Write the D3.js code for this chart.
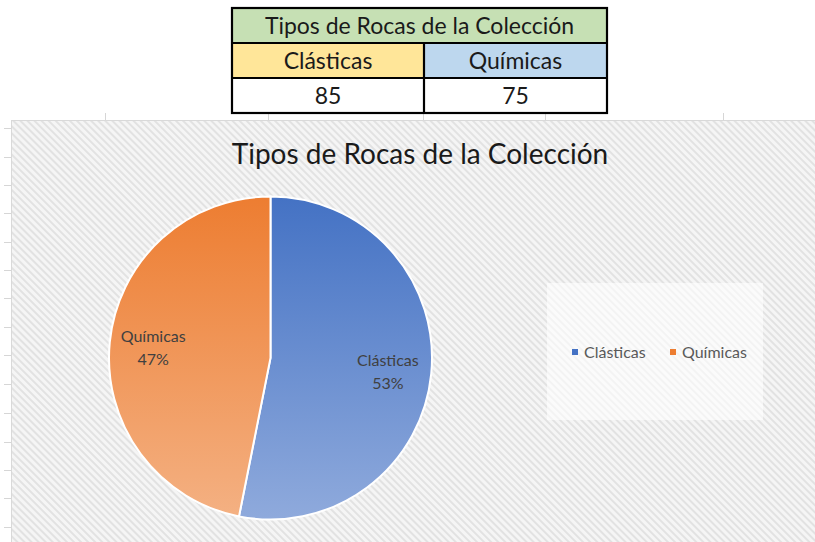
<!DOCTYPE html>
<html>
<head>
<meta charset="utf-8">
<script src="https://cdn.jsdelivr.net/npm/d3@7"></script>
<style>
  body { margin: 0; background: #fff; }
  svg { display: block; }
</style>
</head>
<body>
<div id="main"></div>
<script>
const chartTitle = "Tipos de Rocas de la Colección";
const categories = ["Clásticas", "Químicas"];
const values = [85, 75];
const headerColors = ["#FFE699", "#BDD7EE"];
// gradient stops top -> bottom for each slice
const sliceColors = [["#4472C4", "#8FAADC"], ["#ED7D31", "#F4B183"]];
const legendColors = ["#4472C4", "#ED7D31"];

const ctx = {
    W: 815,
    H: 542,
    font: "Lato, 'Open Sans', sans-serif",
};

function createViz() {
    const svg = d3.select("#main").append("svg")
        .attr("width", ctx.W)
        .attr("height", ctx.H);

    const defs = svg.append("defs");

    // diagonal hatch used by Excel chart area
    const pat = defs.append("pattern")
        .attr("id", "hatch")
        .attr("patternUnits", "userSpaceOnUse")
        .attr("width", 5).attr("height", 5)
        .attr("patternTransform", "rotate(45)");
    pat.append("rect").attr("width", 5).attr("height", 5).attr("fill", "#f5f5f5");
    pat.append("rect").attr("width", 5).attr("height", 2).attr("fill", "#e2e2e2");

    // spreadsheet gridline stubs
    const stubs = svg.append("g").attr("stroke", "#d6d6d6").attr("stroke-width", 1);
    [128, 157, 185, 213, 242, 270, 298, 327, 355, 384, 413, 442, 470, 498, 527].forEach(y => {
        stubs.append("line").attr("x1", 4).attr("x2", 11).attr("y1", y + 0.5).attr("y2", y + 0.5);
    });
    [105, 268, 423, 545, 723].forEach(x => {
        stubs.append("line").attr("x1", x + 0.5).attr("x2", x + 0.5).attr("y1", 113).attr("y2", 120);
    });

    // ---- data table on top ----
    const tx = 232, tw = 375, rowH = 35, ty = 8;
    const colX = d3.scaleOrdinal().domain(categories).range([232, 424]);
    const colW = d3.scaleOrdinal().domain(categories).range([192, 183]);
    const table = svg.append("g");
    table.append("rect")
        .attr("x", tx).attr("y", ty).attr("width", tw).attr("height", rowH)
        .attr("fill", "#C6E0B4");
    table.selectAll("rect.hdr").data(categories).enter().append("rect")
        .attr("class", "hdr")
        .attr("x", d => colX(d)).attr("y", ty + rowH)
        .attr("width", d => colW(d)).attr("height", rowH)
        .attr("fill", (d, i) => headerColors[i]);
    table.selectAll("rect.val").data(categories).enter().append("rect")
        .attr("class", "val")
        .attr("x", d => colX(d)).attr("y", ty + 2 * rowH)
        .attr("width", d => colW(d)).attr("height", rowH)
        .attr("fill", "#fff");
    // borders
    const bd = table.append("g").attr("stroke", "#000").attr("stroke-width", 2.2).attr("fill", "none");
    bd.append("rect").attr("x", tx).attr("y", ty).attr("width", tw).attr("height", 3 * rowH);
    bd.append("line").attr("x1", tx).attr("x2", tx + tw).attr("y1", ty + rowH).attr("y2", ty + rowH);
    bd.append("line").attr("x1", tx).attr("x2", tx + tw).attr("y1", ty + 2 * rowH).attr("y2", ty + 2 * rowH);
    bd.append("line").attr("x1", colX(categories[1])).attr("x2", colX(categories[1]))
        .attr("y1", ty + rowH).attr("y2", ty + 3 * rowH);

    const tfont = "23px";
    table.append("text")
        .attr("x", tx + tw / 2).attr("y", ty + rowH / 2 + 8)
        .attr("text-anchor", "middle")
        .style("font-family", ctx.font).style("font-size", tfont).style("fill", "#1a1a1a")
        .text(chartTitle);
    table.selectAll("text.cat").data(categories).enter().append("text")
        .attr("class", "cat")
        .attr("x", d => colX(d) + colW(d) / 2).attr("y", ty + rowH * 1.5 + 8)
        .attr("text-anchor", "middle")
        .style("font-family", ctx.font).style("font-size", tfont).style("fill", "#1a1a1a")
        .text(d => d);
    table.selectAll("text.num").data(values).enter().append("text")
        .attr("class", "num")
        .attr("x", (d, i) => colX(categories[i]) + colW(categories[i]) / 2).attr("y", ty + rowH * 2.5 + 8)
        .attr("text-anchor", "middle")
        .style("font-family", ctx.font).style("font-size", tfont).style("fill", "#1a1a1a")
        .text(d => d);

    // ---- chart area ----
    svg.append("rect")
        .attr("x", 11.5).attr("y", 120.5).attr("width", ctx.W).attr("height", ctx.H)
        .attr("fill", "url(#hatch)")
        .attr("stroke", "#d9d9d9");

    svg.append("text")
        .attr("x", 420).attr("y", 164)
        .attr("text-anchor", "middle")
        .style("font-family", ctx.font).style("font-size", "28px").style("fill", "#1a1a1a")
        .text(chartTitle);

    // pie
    const cx = 270.5, cy = 358, r = 161.5;
    sliceColors.forEach((c, i) => {
        const g = defs.append("linearGradient")
            .attr("id", "grad" + i)
            .attr("gradientUnits", "userSpaceOnUse")
            .attr("x1", 0).attr("x2", 0).attr("y1", -r).attr("y2", r);
        g.append("stop").attr("offset", "0%").attr("stop-color", c[0]);
        g.append("stop").attr("offset", "100%").attr("stop-color", c[1]);
    });

    const total = d3.sum(values);
    const pie = d3.pie().sort(null).value(d => d.value);
    const arcs = pie(categories.map((c, i) => ({ name: c, value: values[i], idx: i })));
    const arc = d3.arc().innerRadius(0).outerRadius(r);
    const labelArc = d3.arc().innerRadius(r * 0.73).outerRadius(r * 0.73);

    const pg = svg.append("g").attr("transform", `translate(${cx},${cy})`);
    pg.selectAll("path").data(arcs).enter().append("path")
        .attr("d", arc)
        .attr("fill", d => `url(#grad${d.data.idx})`)
        .attr("stroke", "#fff")
        .attr("stroke-width", 2);

    const lbl = pg.selectAll("text.lbl").data(arcs).enter().append("text")
        .attr("class", "lbl")
        .attr("transform", d => `translate(${labelArc.centroid(d)})`)
        .attr("text-anchor", "middle")
        .style("font-family", ctx.font).style("font-size", "16px").style("fill", "#404040");
    lbl.append("tspan").attr("x", 0).attr("y", -4).text(d => d.data.name);
    lbl.append("tspan").attr("x", 0).attr("y", 19)
        .text(d => Math.round(d.data.value / total * 100) + "%");

    // legend
    const lg = svg.append("g");
    lg.append("rect")
        .attr("x", 547).attr("y", 283).attr("width", 216).attr("height", 137)
        .attr("fill", "#fff").attr("fill-opacity", 0.6);
    const legX = d3.scaleOrdinal().domain(categories).range([572, 670]);
    lg.selectAll("rect.key").data(categories).enter().append("rect")
        .attr("class", "key")
        .attr("x", d => legX(d)).attr("y", 349)
        .attr("width", 6).attr("height", 6)
        .attr("fill", (d, i) => legendColors[i]);
    lg.selectAll("text.key").data(categories).enter().append("text")
        .attr("class", "key")
        .attr("x", d => legX(d) + 12).attr("y", 358)
        .style("font-family", ctx.font).style("font-size", "16px").style("fill", "#595959")
        .text(d => d);
}

createViz();
</script>
</body>
</html>
